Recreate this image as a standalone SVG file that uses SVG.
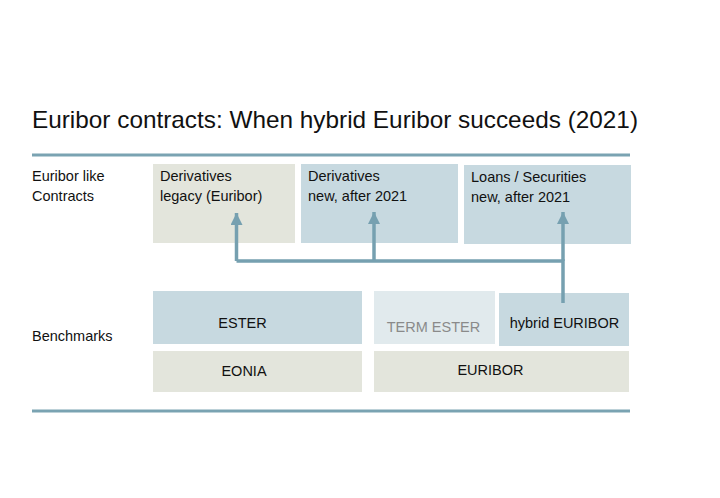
<svg xmlns="http://www.w3.org/2000/svg" width="720" height="498" viewBox="0 0 720 498">
<defs>
<marker id="ah" markerUnits="userSpaceOnUse" markerWidth="14" markerHeight="14" refX="12" refY="6" orient="auto">
<path d="M0,0 L12,6 L0,12 z" fill="#76a0b0"/>
</marker>
<style>
text{font-family:"Liberation Sans",Arial,sans-serif;fill:#111;font-size:14.5px}
.t{font-size:24px}
.blue{fill:#c7d9e0}
.grey{fill:#e3e5dc}
.pale{fill:#e1eaed}
.rule{stroke:#7aa3b2;stroke-width:3;fill:none}
.conn{stroke:#76a0b0;stroke-width:3.5;fill:none}
.c{text-anchor:middle}
</style>
</defs>
<rect width="720" height="498" fill="#fff"/>
<text class="t" x="32" y="128" textLength="606" lengthAdjust="spacingAndGlyphs">Euribor contracts: When hybrid Euribor succeeds (2021)</text>
<line class="rule" x1="32" y1="155" x2="630" y2="155"/>
<line class="rule" x1="32" y1="411" x2="630" y2="411"/>
<g id="label-contracts"><text x="32" y="181">Euribor like</text><text x="32" y="201">Contracts</text></g>
<g id="label-benchmarks"><text x="32" y="341">Benchmarks</text></g>
<g id="deriv-legacy"><rect class="grey" x="153" y="164" width="142" height="79"/><text x="160" y="181">Derivatives</text><text x="160" y="201">legacy (Euribor)</text></g>
<g id="deriv-new"><rect class="blue" x="301" y="164" width="157" height="79"/><text x="308" y="181">Derivatives</text><text x="308" y="201">new, after 2021</text></g>
<g id="loans"><rect class="blue" x="464" y="165" width="167" height="79"/><text x="471" y="182">Loans / Securities</text><text x="471" y="202">new, after 2021</text></g>
<g id="ester"><rect class="blue" x="153" y="291" width="209" height="53"/><text class="c" x="242.5" y="328">ESTER</text></g>
<g id="term-ester"><rect class="pale" x="374" y="291" width="121" height="53"/><text class="c" x="433.5" y="332" style="fill:#8a8a8a">TERM ESTER</text></g>
<g id="hybrid-euribor"><rect class="blue" x="499" y="293" width="130" height="53"/><text class="c" x="564.5" y="328">hybrid EURIBOR</text></g>
<g id="eonia"><rect class="grey" x="153" y="351" width="209" height="41"/><text class="c" x="244" y="376">EONIA</text></g>
<g id="euribor"><rect class="grey" x="374" y="351" width="255" height="41"/><text class="c" x="490.5" y="375">EURIBOR</text></g>
<g id="connectors">
<path class="conn" d="M563,303 V261 H236.5"/>
<path class="conn" d="M236.5,261 V213" marker-end="url(#ah)"/>
<path class="conn" d="M374,261 V212" marker-end="url(#ah)"/>
<path class="conn" d="M563,261 V212" marker-end="url(#ah)"/>
</g>
</svg>
